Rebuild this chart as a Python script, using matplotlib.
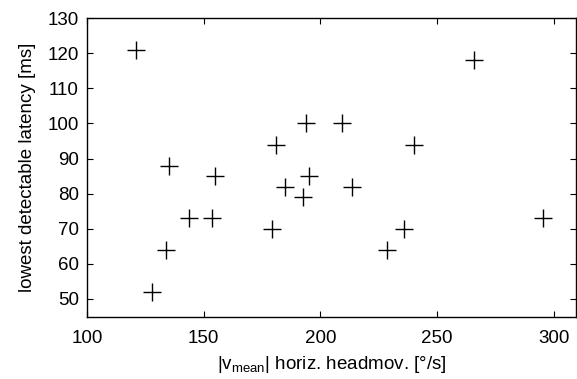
import matplotlib
matplotlib.use('Agg')
from matplotlib import pyplot as plt

# mean horizontal head movement speed vs. lowest detectable latency
speed = [121, 135, 155, 181, 184.7, 143.7, 153.4, 133.6, 128, 179.2,
         193.7, 209.2, 240, 265.7, 195, 213.7, 192.5, 235.8, 228.4, 295.6]
latency = [121, 88, 85, 94, 82, 73, 73, 64, 52, 70,
           100, 100, 94, 118, 85, 82, 79, 70, 64, 73]

x_ticks = [100, 150, 200, 250, 300]
y_ticks = [50, 60, 70, 80, 90, 100, 110, 120, 130]

plt.rcParams['font.family'] = ['Liberation Sans', 'DejaVu Sans']
plt.rcParams['font.size'] = 13.5

fig = plt.figure(figsize=(5.77, 3.79), dpi=100)
ax = fig.add_axes([0.151, 0.163, 0.847, 0.789])

ax.plot(speed, latency, linestyle='none', marker='+', color='black',
        markersize=12.5, markeredgewidth=1.0)

ax.set_xlim(100, 309.5)
ax.set_ylim(44.8, 130)
ax.set_xticks(x_ticks)
ax.set_yticks(y_ticks)
ax.tick_params(direction='in', top=True, right=True, length=4, width=0.8,
               labelsize=13.5)
ax.tick_params(axis='x', pad=9)
ax.tick_params(axis='y', pad=6)
for s in ax.spines.values():
    s.set_linewidth(1.0)

ax.set_xlabel(r'|v$_\mathregular{mean}$| horiz. headmov. [°/s]', fontsize=13.5, labelpad=5)
ax.set_ylabel('lowest detectable latency [ms]', fontsize=13.5, labelpad=8)

fig.savefig('out.png', dpi=100)
